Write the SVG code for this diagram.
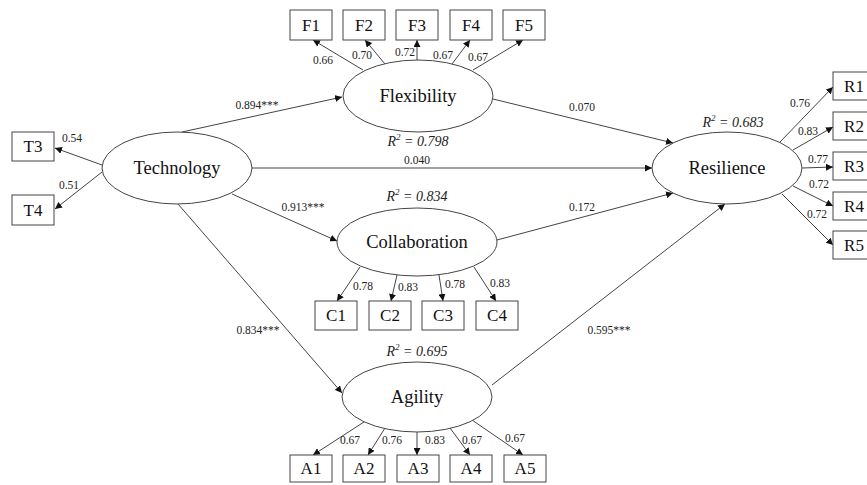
<svg xmlns="http://www.w3.org/2000/svg" width="867" height="485" viewBox="0 0 867 485">
<defs>
<marker id="arr" viewBox="0 0 10 10" refX="10" refY="5" markerWidth="7" markerHeight="7" markerUnits="userSpaceOnUse" orient="auto">
<path d="M0,0 L10,5 L0,10 z" fill="#111"/>
</marker>
</defs>
<style>
.e{fill:#fff;stroke:#444;stroke-width:1}
.b{fill:#fff;stroke:#444;stroke-width:1}
.nl{font-family:"Liberation Serif","Times New Roman",serif;font-size:18.5px;fill:#111;text-anchor:middle}
.bl{font-family:"Liberation Serif","Times New Roman",serif;font-size:17px;fill:#111;text-anchor:middle}
.pl{font-family:"Liberation Serif","Times New Roman",serif;font-size:11.5px;fill:#222;text-anchor:middle}
.r2{font-family:"Liberation Serif","Times New Roman",serif;font-size:14px;font-style:italic;fill:#222;text-anchor:middle}
.c line{stroke:#444;stroke-width:1;marker-end:url(#arr)}
</style>
<rect width="867" height="485" fill="#fff"/>
<g class="c" id="connectors">
<line x1="182" y1="132" x2="342" y2="97"/>
<line x1="252" y1="168" x2="652" y2="168"/>
<line x1="232" y1="194" x2="337" y2="241"/>
<line x1="178" y1="204" x2="342" y2="393"/>
<line x1="493" y1="99" x2="673" y2="143"/>
<line x1="497" y1="240" x2="673" y2="193"/>
<line x1="492" y1="385" x2="725" y2="204"/>
<line x1="363" y1="70" x2="313" y2="40"/>
<line x1="385" y1="64" x2="365" y2="40"/>
<line x1="417" y1="61" x2="417" y2="40"/>
<line x1="452" y1="64" x2="470" y2="40"/>
<line x1="473" y1="70" x2="523" y2="40"/>
<line x1="102" y1="165" x2="55" y2="148"/>
<line x1="102" y1="172" x2="55" y2="209"/>
<line x1="780" y1="142" x2="833" y2="87"/>
<line x1="793" y1="150" x2="833" y2="127"/>
<line x1="802" y1="168" x2="833" y2="167"/>
<line x1="793" y1="186" x2="833" y2="206"/>
<line x1="782" y1="194" x2="833" y2="245"/>
<line x1="360" y1="267" x2="337" y2="301"/>
<line x1="397" y1="275" x2="391" y2="301"/>
<line x1="439" y1="275" x2="443" y2="301"/>
<line x1="474" y1="267" x2="496" y2="301"/>
<line x1="367" y1="420" x2="313" y2="455"/>
<line x1="385" y1="428" x2="368" y2="455"/>
<line x1="417" y1="432" x2="417" y2="455"/>
<line x1="450" y1="428" x2="470" y2="455"/>
<line x1="472" y1="420" x2="523" y2="455"/>
</g>
<g id="path-labels">
<text class="pl" x="257" y="109">0.894***</text>
<text class="pl" x="417" y="164">0.040</text>
<text class="pl" x="303" y="211">0.913***</text>
<text class="pl" x="258" y="334">0.834***</text>
<text class="pl" x="582" y="111">0.070</text>
<text class="pl" x="582" y="211">0.172</text>
<text class="pl" x="609" y="334">0.595***</text>
<text class="pl" x="323" y="64">0.66</text>
<text class="pl" x="362" y="59">0.70</text>
<text class="pl" x="405" y="56">0.72</text>
<text class="pl" x="443" y="59">0.67</text>
<text class="pl" x="478" y="61">0.67</text>
<text class="pl" x="72" y="142">0.54</text>
<text class="pl" x="69" y="189">0.51</text>
<text class="pl" x="800" y="107">0.76</text>
<text class="pl" x="808" y="135">0.83</text>
<text class="pl" x="818" y="163">0.77</text>
<text class="pl" x="819" y="188">0.72</text>
<text class="pl" x="817" y="218">0.72</text>
<text class="pl" x="363" y="290">0.78</text>
<text class="pl" x="408" y="291">0.83</text>
<text class="pl" x="455" y="288">0.78</text>
<text class="pl" x="500" y="287">0.83</text>
<text class="pl" x="350" y="444">0.67</text>
<text class="pl" x="392" y="444">0.76</text>
<text class="pl" x="435" y="444">0.83</text>
<text class="pl" x="472" y="444">0.67</text>
<text class="pl" x="515" y="442">0.67</text>
</g>
<g id="technology"><ellipse class="e" cx="177" cy="168" rx="75" ry="36"/><text class="nl" x="177" y="174">Technology</text></g>
<g id="flexibility"><ellipse class="e" cx="418" cy="96" rx="75" ry="36"/><text class="nl" x="418" y="102">Flexibility</text>
<text class="r2" x="418" y="146">R<tspan font-size="9" dy="-6">2</tspan><tspan dy="6"> = 0.798</tspan></text></g>
<g id="collaboration"><ellipse class="e" cx="417" cy="242" rx="80" ry="34"/><text class="nl" x="417" y="248">Collaboration</text>
<text class="r2" x="417" y="201">R<tspan font-size="9" dy="-6">2</tspan><tspan dy="6"> = 0.834</tspan></text></g>
<g id="agility"><ellipse class="e" cx="417" cy="397" rx="75" ry="35"/><text class="nl" x="417" y="403">Agility</text>
<text class="r2" x="417" y="356">R<tspan font-size="9" dy="-6">2</tspan><tspan dy="6"> = 0.695</tspan></text></g>
<g id="resilience"><ellipse class="e" cx="727" cy="168" rx="75" ry="36"/><text class="nl" x="727" y="174">Resilience</text>
<text class="r2" x="733" y="127">R<tspan font-size="9" dy="-6">2</tspan><tspan dy="6"> = 0.683</tspan></text></g>
<g id="F1"><rect class="b" x="290" y="10" width="42" height="30"/><text class="bl" x="311" y="31">F1</text></g>
<g id="F2"><rect class="b" x="343" y="10" width="42" height="30"/><text class="bl" x="364" y="31">F2</text></g>
<g id="F3"><rect class="b" x="396" y="10" width="42" height="30"/><text class="bl" x="417" y="31">F3</text></g>
<g id="F4"><rect class="b" x="450" y="10" width="42" height="30"/><text class="bl" x="471" y="31">F4</text></g>
<g id="F5"><rect class="b" x="503" y="10" width="42" height="30"/><text class="bl" x="524" y="31">F5</text></g>
<g id="T3"><rect class="b" x="12" y="132" width="42" height="29"/><text class="bl" x="33" y="152">T3</text></g>
<g id="T4"><rect class="b" x="12" y="195" width="42" height="30"/><text class="bl" x="33" y="216">T4</text></g>
<g id="R1"><rect class="b" x="833" y="72" width="42" height="28"/><text class="bl" x="854" y="92">R1</text></g>
<g id="R2"><rect class="b" x="833" y="112" width="42" height="28"/><text class="bl" x="854" y="132">R2</text></g>
<g id="R3"><rect class="b" x="833" y="152" width="42" height="28"/><text class="bl" x="854" y="172">R3</text></g>
<g id="R4"><rect class="b" x="833" y="192" width="42" height="28"/><text class="bl" x="854" y="212">R4</text></g>
<g id="R5"><rect class="b" x="833" y="231" width="42" height="28"/><text class="bl" x="854" y="251">R5</text></g>
<g id="C1"><rect class="b" x="315" y="301" width="42" height="29"/><text class="bl" x="336" y="321">C1</text></g>
<g id="C2"><rect class="b" x="369" y="301" width="42" height="29"/><text class="bl" x="390" y="321">C2</text></g>
<g id="C3"><rect class="b" x="422" y="301" width="42" height="29"/><text class="bl" x="443" y="321">C3</text></g>
<g id="C4"><rect class="b" x="476" y="301" width="42" height="29"/><text class="bl" x="497" y="321">C4</text></g>
<g id="A1"><rect class="b" x="290" y="455" width="42" height="27"/><text class="bl" x="311" y="474">A1</text></g>
<g id="A2"><rect class="b" x="343" y="455" width="42" height="27"/><text class="bl" x="364" y="474">A2</text></g>
<g id="A3"><rect class="b" x="397" y="455" width="42" height="27"/><text class="bl" x="418" y="474">A3</text></g>
<g id="A4"><rect class="b" x="450" y="455" width="42" height="27"/><text class="bl" x="471" y="474">A4</text></g>
<g id="A5"><rect class="b" x="504" y="455" width="42" height="27"/><text class="bl" x="525" y="474">A5</text></g>
</svg>
